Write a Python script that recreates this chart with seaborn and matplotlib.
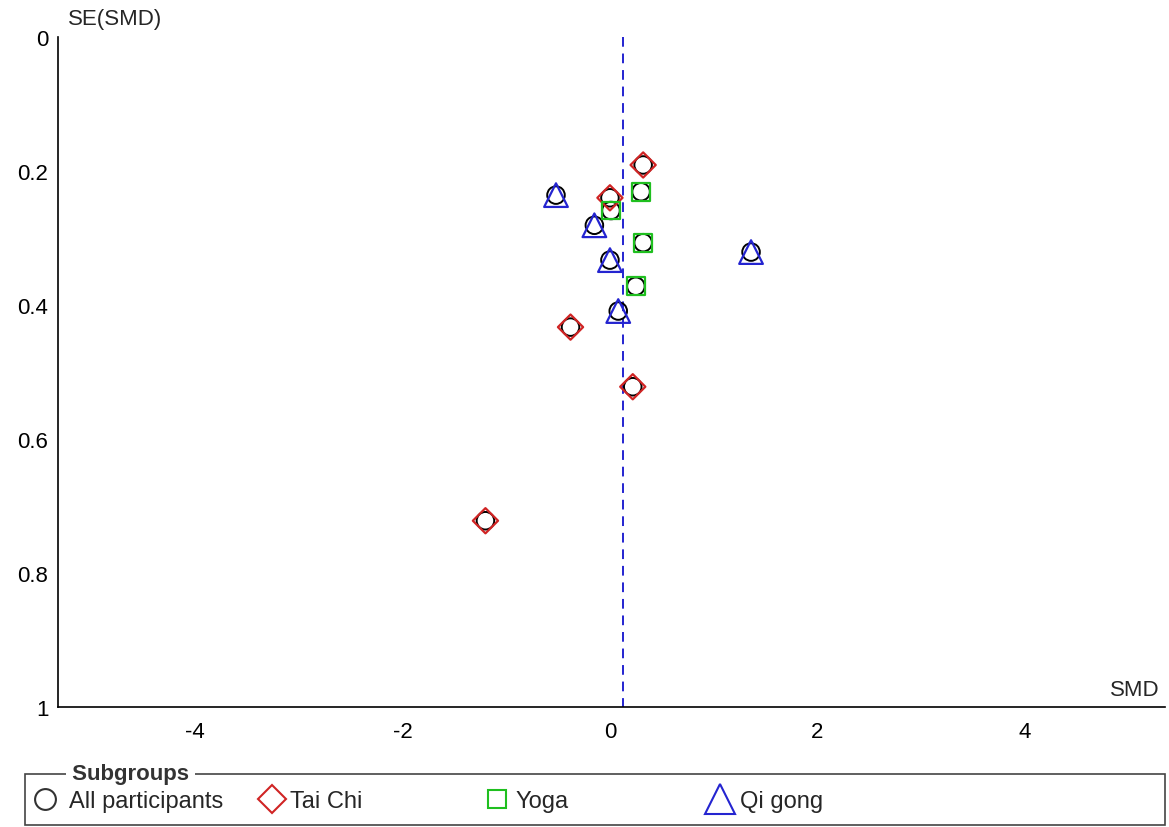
import matplotlib
matplotlib.use("Agg")
import matplotlib.pyplot as plt
from matplotlib.lines import Line2D
from matplotlib.patches import Rectangle
import pandas as pd
import seaborn as sns

# funnel plot data (SMD vs SE(SMD))
tai_chi_smd = [0.32, 0.0, -0.38, 0.22, -1.20]
tai_chi_se = [0.191, 0.240, 0.433, 0.522, 0.722]
yoga_smd = [0.30, 0.01, 0.32, 0.25]
yoga_se = [0.231, 0.259, 0.307, 0.372]
qigong_smd = [-0.52, -0.15, 0.0, 1.36, 0.08]
qigong_se = [0.236, 0.281, 0.333, 0.321, 0.409]
pooled_smd = 0.125

x_ticks = [-4, -2, 0, 2, 4]
y_ticks = [0, 0.2, 0.4, 0.6, 0.8, 1]
y_tick_labels = ["0", "0.2", "0.4", "0.6", "0.8", "1"]
legend_labels = ["All participants", "Tai Chi", "Yoga", "Qi gong"]

RED = "#D02424"
GREEN = "#1FBF1F"
BLUE = "#2424D0"
FS = 16
LEG_FS = 17

sns.set_style("white")
plt.rcParams["font.family"] = ["Liberation Sans", "DejaVu Sans"]
plt.rcParams["axes.unicode_minus"] = False

df = pd.concat([
    pd.DataFrame({"smd": tai_chi_smd, "se": tai_chi_se, "subgroup": "Tai Chi"}),
    pd.DataFrame({"smd": yoga_smd, "se": yoga_se, "subgroup": "Yoga"}),
    pd.DataFrame({"smd": qigong_smd, "se": qigong_se, "subgroup": "Qi gong"}),
], ignore_index=True)

styles = {
    "Tai Chi": ("D", RED, 165),
    "Yoga": ("s", GREEN, 165),
    "Qi gong": ("^", BLUE, 290),
}

fig = plt.figure(figsize=(11.69, 8.28), dpi=100)
W, H = 1169, 828
ax = fig.add_axes([58 / W, 1 - 708 / H, (1165 - 58) / W, (708 - 38) / H])

# every study also gets the "All participants" circle
sns.scatterplot(data=df, x="smd", y="se", marker="o", s=160, color="black",
                facecolor="none", edgecolor="black", linewidth=1.4, ax=ax, zorder=3)
for name, (marker, col, size) in styles.items():
    sub = df[df["subgroup"] == name]
    sns.scatterplot(data=sub, x="smd", y="se", marker=marker, s=size, color=col,
                    facecolor="none", edgecolor=col, linewidth=1.6, ax=ax, zorder=4)

ax.plot([pooled_smd, pooled_smd], [0, 1], color=BLUE, linestyle=(0, (5, 3.5)),
        linewidth=1.4, zorder=2)

ax.set_xlim(-5.32, 5.35)
ax.set_ylim(1, 0)
ax.set_xticks(x_ticks)
ax.set_xticklabels([str(t) for t in x_ticks])
ax.set_yticks(y_ticks)
ax.set_yticklabels(y_tick_labels)
ax.set_xlabel("")
ax.set_ylabel("")
for side in ["top", "right"]:
    ax.spines[side].set_visible(False)
for side in ["left", "bottom"]:
    ax.spines[side].set_color("black")
    ax.spines[side].set_linewidth(1.2)
ax.tick_params(direction="inout", length=10, width=1.1, colors="black",
               labelsize=FS)
ax.tick_params(axis="x", pad=5)
ax.tick_params(axis="y", pad=2)

fig.text(68 / W, 1 - 20 / H, "SE(SMD)", fontsize=FS, va="center", ha="left")
fig.text(1160 / W, 1 - 690 / H, "SMD", fontsize=FS, va="center", ha="right")

# subgroup legend box
fig.patches.append(Rectangle((25 / W, 2 / H), (1165 - 25) / W, (828 - 775 - 2) / H,
                             transform=fig.transFigure, fill=False,
                             edgecolor="#444444", linewidth=1.2))
fig.text(66 / W, 1 - 775 / H, " Subgroups ", fontsize=FS, fontweight="bold",
         color="#333333", va="center", ha="left",
         bbox=dict(facecolor="white", edgecolor="none", pad=0))

handles = [
    Line2D([], [], marker="o", linestyle="none", markersize=15, markerfacecolor="none",
           markeredgecolor="#333333", markeredgewidth=1.5),
    Line2D([], [], marker="D", linestyle="none", markersize=14.5, markerfacecolor="none",
           markeredgecolor=RED, markeredgewidth=1.5),
    Line2D([], [], marker="s", linestyle="none", markersize=13, markerfacecolor="none",
           markeredgecolor=GREEN, markeredgewidth=1.5),
    Line2D([], [], marker="^", linestyle="none", markersize=21.5, markerfacecolor="none",
           markeredgecolor=BLUE, markeredgewidth=1.5),
]
# (marker centre px, text start px) for each legend entry
entry_pos = [(45, 69), (272, 290), (497, 515), (720, 740)]
px_per_em = LEG_FS * 100 / 72
for handle, label, (cx, tx) in zip(handles, legend_labels, entry_pos):
    box = 32
    fig.legend([handle], [label], loc="center left",
               bbox_to_anchor=((cx - box / 2) / W, 1 - 802 / H),
               frameon=False, fontsize=LEG_FS, handlelength=box / px_per_em,
               handletextpad=(tx - (cx + box / 2)) / px_per_em,
               borderpad=0, borderaxespad=0)

fig.savefig("out.png", dpi=100)
